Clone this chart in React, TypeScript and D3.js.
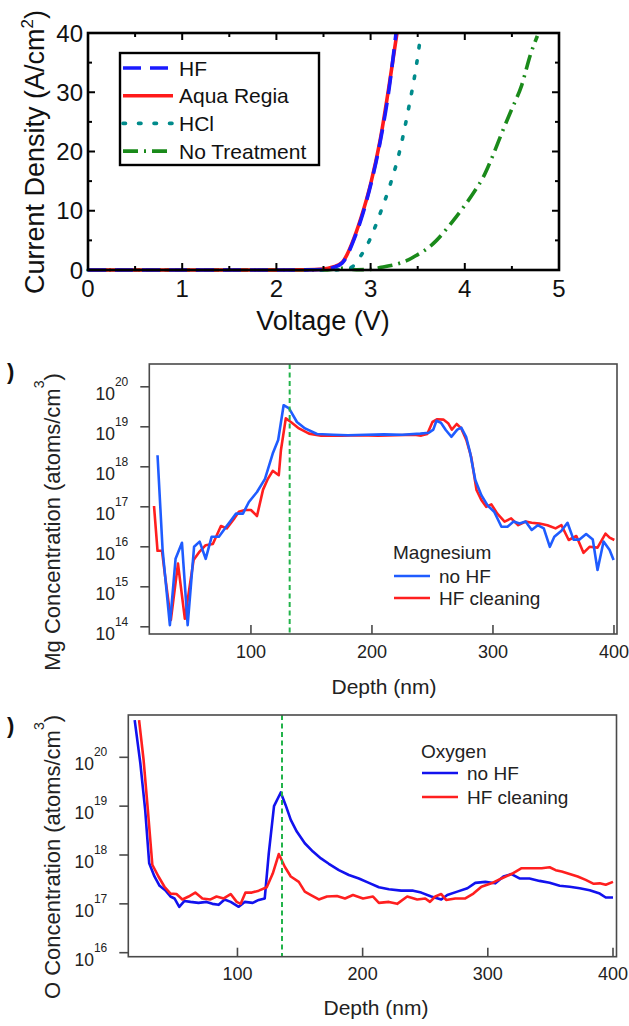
import React from "react";
import * as d3 from "d3";

const FONT = "'Liberation Sans', Arial, Helvetica, sans-serif";

// ---------- Panel (a): J-V curves ----------
const voltTicks = [0, 1, 2, 3, 4, 5];
const currentTicks = [0, 10, 20, 30, 40];

const hfVolt = [0, 0.5, 1, 1.5, 2, 2.3, 2.5, 2.6, 2.7, 2.75, 2.8, 2.9, 3.0, 3.1, 3.2, 3.27];
const hfCurrent = [0, 0, 0, 0, 0, 0.02, 0.1, 0.4, 1.2, 2.4, 4.2, 8.6, 14.3, 21.5, 31, 40];

const arVolt = [0, 0.5, 1, 1.5, 2, 2.3, 2.5, 2.6, 2.7, 2.75, 2.8, 2.9, 3.0, 3.1, 3.2, 3.28];
const arCurrent = [0, 0, 0, 0, 0, 0.03, 0.15, 0.5, 1.3, 2.6, 4.4, 8.9, 14.5, 21.8, 31.5, 40];

const hclVolt = [0, 0.5, 1, 1.5, 2, 2.5, 2.7, 2.8, 2.9, 3.0, 3.1, 3.2, 3.3, 3.4, 3.5, 3.53];
const hclCurrent = [0, 0, 0, 0, 0, 0, 0.05, 0.5, 2.5, 5.4, 9.5, 14, 19.5, 27, 36, 39.5];

const ntVolt = [0, 0.5, 1, 1.5, 2, 2.5, 2.7, 2.85, 3.0, 3.1, 3.2, 3.3, 3.4, 3.5, 3.6, 3.7, 3.8, 3.9, 4.0, 4.1, 4.2, 4.3, 4.4, 4.5, 4.6, 4.7, 4.77];
const ntCurrent = [0, 0, 0, 0, 0, 0, 0.3, 0.05, 0.1, 0.4, 0.7, 1.1, 1.7, 2.6, 3.6, 5.0, 6.8, 8.8, 10.9, 13.2, 15.8, 19.4, 23.4, 27.2, 31.0, 36.5, 39.5];

const jvLegend = ["HF", "Aqua Regia", "HCl", "No Treatment"];

// ---------- Panel (b): Mg SIMS ----------
const depthTicks = [100, 200, 300, 400];
const mgExpTicks = [14, 15, 16, 17, 18, 19, 20];

const mgNoHFDepth = [22.8, 27, 33, 37.7, 43, 47.7, 53, 57.6, 62.6, 67.5, 73.5, 78.5, 82.8, 87.7, 93.4, 98.3, 105, 111.6, 118, 122.5, 127, 131.5, 138, 144.7, 154.6, 168, 180, 195, 210, 225, 240, 247, 250.7, 253.3, 257, 261, 265.6, 270.5, 273.8, 277.8, 281, 285.4, 290.4, 295.4, 301, 307, 312, 317, 322, 327, 332, 337, 342, 347, 350.7, 356.6, 361.6, 366.6, 371.5, 377, 382.5, 386.4, 391.4, 396.4, 399.7];
const mgNoHFExp = [18.29, 15.92, 14.04, 15.7, 16.1, 14.04, 16.0, 16.13, 15.7, 16.25, 16.25, 16.46, 16.63, 16.83, 16.83, 17.12, 17.37, 17.7, 18.33, 18.67, 19.54, 19.46, 19.12, 18.96, 18.82, 18.8, 18.79, 18.8, 18.81, 18.8, 18.83, 18.85, 18.93, 19.15, 19.1, 18.92, 18.75, 18.93, 18.98, 18.75, 18.37, 17.67, 17.29, 17.04, 16.875, 16.5, 16.5, 16.63, 16.58, 16.63, 16.42, 16.54, 16.46, 16.0, 16.25, 16.4, 16.6, 16.18, 16.18, 16.32, 16.18, 15.42, 16.13, 15.92, 15.67];

const mgHFDepth = [19.9, 22.8, 26.5, 28.8, 33.8, 39.7, 45.4, 52.6, 57.6, 62.6, 68.5, 75.2, 80, 85.8, 90, 95, 100, 105, 110, 114, 118, 123, 124.8, 128.8, 133, 139.7, 148, 158, 175, 190, 205, 220, 235, 240.7, 245.7, 250, 254, 259, 263.2, 266, 270, 273.8, 278, 282, 286.4, 290.4, 294.4, 298.7, 303.6, 309.6, 315, 320.9, 327, 332, 338.4, 345, 351.7, 356.6, 362.6, 368.9, 374.8, 379.8, 386.4, 393, 396.4, 400.3];
const mgHFExp = [17.02, 15.9, 15.9, 15.33, 14.17, 15.58, 14.2, 15.67, 15.88, 16.04, 16.07, 16.52, 16.46, 16.69, 16.875, 16.92, 16.92, 16.77, 17.43, 17.7, 17.9, 17.79, 18.42, 19.21, 19.12, 18.96, 18.83, 18.78, 18.78, 18.79, 18.78, 18.79, 18.8, 18.78, 18.82, 19.12, 19.19, 19.18, 19.08, 18.93, 19.07, 18.96, 18.67, 18.25, 17.42, 17.17, 17.0, 17.06, 16.83, 16.63, 16.71, 16.54, 16.63, 16.6, 16.58, 16.54, 16.46, 16.54, 16.17, 16.27, 15.85, 16.0, 15.98, 16.33, 16.23, 16.17];

// ---------- Panel (c): O SIMS ----------
const oExpTicks = [16, 17, 18, 19, 20];

const oNoHFDepth = [17.9, 22.4, 26.3, 29.5, 33.7, 37.8, 42.3, 46.5, 49.7, 53.5, 57.7, 62.5, 68.9, 75.3, 80, 85, 89.7, 94.6, 101, 105.8, 112.2, 117, 121.8, 125, 129.2, 134.6, 138.5, 142.6, 147.4, 153.8, 160.3, 166.7, 173, 181, 189, 197, 205, 213, 221, 230.8, 240.4, 246.8, 254.8, 262.8, 267.6, 275.6, 283.7, 290, 298, 306, 312.5, 318.9, 325.3, 333.3, 341.3, 349.4, 357.4, 365.4, 373.4, 381.4, 389.4, 394.2, 400];
const oNoHFExp = [20.76, 19.88, 18.92, 17.83, 17.56, 17.37, 17.28, 17.15, 17.11, 16.94, 17.06, 17.04, 17.02, 17.04, 17.0, 16.98, 17.09, 17.04, 16.94, 17.04, 17.02, 17.08, 17.11, 18.03, 19.0, 19.28, 19.02, 18.72, 18.48, 18.24, 18.07, 17.93, 17.82, 17.69, 17.59, 17.52, 17.43, 17.34, 17.3, 17.27, 17.27, 17.23, 17.15, 17.09, 17.18, 17.25, 17.32, 17.43, 17.45, 17.42, 17.56, 17.61, 17.52, 17.52, 17.47, 17.43, 17.37, 17.35, 17.32, 17.28, 17.21, 17.13, 17.13];

const oHFDepth = [21.4, 25, 28.2, 32, 36.9, 41.7, 46.5, 51.3, 56, 61, 66.3, 72, 78.5, 83.3, 89, 94.6, 99.4, 102.6, 106.4, 111.5, 117, 123.4, 128.2, 133, 137.8, 142.6, 149, 153.8, 158.7, 165, 171.5, 179.5, 185.9, 192.3, 200.3, 208.3, 213, 221, 227.6, 235.6, 243.6, 250, 253.8, 258, 262.8, 266.7, 274, 282, 288.5, 294.9, 302.9, 310.9, 318.9, 327, 335, 343, 349.4, 354.2, 359, 365.4, 371.8, 378.2, 384.6, 389.4, 394.2, 400];
const oHFExp = [20.76, 19.95, 18.99, 17.8, 17.56, 17.35, 17.21, 17.2, 17.09, 17.15, 17.23, 17.11, 17.09, 17.15, 17.11, 17.2, 17.04, 17.0, 17.23, 17.23, 17.27, 17.34, 17.62, 18.02, 17.76, 17.56, 17.45, 17.25, 17.18, 17.09, 17.15, 17.16, 17.11, 17.18, 17.11, 17.15, 17.02, 17.04, 17.0, 17.15, 17.09, 17.11, 17.04, 17.15, 17.2, 17.08, 17.11, 17.11, 17.21, 17.35, 17.42, 17.52, 17.61, 17.73, 17.73, 17.73, 17.75, 17.69, 17.66, 17.61, 17.56, 17.49, 17.41, 17.42, 17.39, 17.45];

const mgInterfaceDepth = 132;
const oInterfaceDepth = 135.6;
const simsLegend = ["no HF", "HF cleaning"];

type Pt = [number, number];
const zip = (a: number[], b: number[]): Pt[] => a.map((v, i) => [v, b[i]]);
const zipExp = (a: number[], b: number[]): Pt[] => a.map((v, i) => [v, Math.pow(10, b[i])]);

function PanelA() {
  const x = d3.scaleLinear().domain([0, 5]).range([88, 559]);
  const y = d3.scaleLinear().domain([0, 40]).range([270, 33]);
  const smooth = d3.line<Pt>().x((d) => x(d[0])).y((d) => y(d[1])).curve(d3.curveMonotoneX);
  const [x0, x1] = x.range();
  const [y0, y1] = y.range();
  const xMinor = d3.range(0, 5.01, 0.5);
  const yMinor = d3.range(0, 40.01, 5);
  const series = [
    { name: jvLegend[3], data: zip(ntVolt, ntCurrent), color: "#1a8a1a", dash: "15,6,2,6", cap: "butt" },
    { name: jvLegend[2], data: zip(hclVolt, hclCurrent), color: "#008b8b", dash: "2.5,13", cap: "round" },
    { name: jvLegend[1], data: zip(arVolt, arCurrent), color: "#ff1a1a", dash: "", cap: "butt" },
    { name: jvLegend[0], data: zip(hfVolt, hfCurrent), color: "#1a1aff", dash: "18,9", cap: "butt" },
  ];
  const legendOrder = [3, 2, 1, 0];
  return (
    <g>
      {series.map((s) => (
        <path key={s.name} d={smooth(s.data) || ""} fill="none" stroke={s.color} strokeWidth={3.6}
          strokeDasharray={s.dash || undefined} strokeLinecap={s.cap as any} />
      ))}
      <rect x={x0} y={y1} width={x1 - x0} height={y0 - y1} fill="none" stroke="#000" strokeWidth={2.6} />
      {xMinor.map((v) => {
        const major = Math.abs(v - Math.round(v)) < 1e-6;
        const L = major ? 7 : 4;
        return (
          <g key={"xt" + v}>
            <line x1={x(v)} x2={x(v)} y1={y0} y2={y0 - L} stroke="#000" strokeWidth={2} />
            <line x1={x(v)} x2={x(v)} y1={y1} y2={y1 + L} stroke="#000" strokeWidth={2} />
          </g>
        );
      })}
      {yMinor.map((v) => {
        const major = v % 10 === 0;
        const L = major ? 7 : 4;
        return (
          <g key={"yt" + v}>
            <line x1={x0} x2={x0 + L} y1={y(v)} y2={y(v)} stroke="#000" strokeWidth={2} />
            <line x1={x1} x2={x1 - L} y1={y(v)} y2={y(v)} stroke="#000" strokeWidth={2} />
          </g>
        );
      })}
      {voltTicks.map((v) => (
        <text key={"xl" + v} x={x(v)} y={297} textAnchor="middle" fontSize={24} fontFamily={FONT} fill="#111">{v}</text>
      ))}
      {currentTicks.map((v) => (
        <text key={"yl" + v} x={83} y={y(v)} dy="0.36em" textAnchor="end" fontSize={24} fontFamily={FONT} fill="#111">{v}</text>
      ))}
      <text x={323} y={330} textAnchor="middle" fontSize={27} fontFamily={FONT} fill="#111">Voltage (V)</text>
      <text transform="translate(44,152) rotate(-90)" textAnchor="middle" fontSize={27} fontFamily={FONT} fill="#111">
        Current Density (A/cm<tspan dy={-11} fontSize={17}>2</tspan><tspan dy={11}>)</tspan>
      </text>
      <rect x={120} y={53} width={199} height={112} fill="#fff" stroke="#000" strokeWidth={2.4} />
      {legendOrder.map((si, i) => {
        const s = series[si];
        const ly = 68 + i * 27.7;
        return (
          <g key={"lg" + i}>
            <line x1={123} x2={173} y1={ly} y2={ly} stroke={s.color} strokeWidth={3.6}
              strokeDasharray={s.dash || undefined} strokeLinecap={s.cap as any} />
            <text x={179} y={ly} dy="0.36em" fontSize={21} fontFamily={FONT} fill="#111">{s.name}</text>
          </g>
        );
      })}
    </g>
  );
}

type SimsProps = {
  box: { l: number; r: number; t: number; b: number };
  xDomain: [number, number];
  yExpDomain: [number, number];
  expTicks: number[];
  noHF: Pt[];
  hf: Pt[];
  interfaceDepth: number;
  blue: string;
  yLabel: string;
  yLabelCenter: number;
  xLabelX: number;
  xLabelY: number;
  tickLabelY: number;
  legendTitle: string;
  legend: { x: number; titleY: number; y1: number; y2: number };
  hfOnTop: boolean;
};

function SimsPanel(p: SimsProps) {
  const x = d3.scaleLinear().domain(p.xDomain).range([p.box.l, p.box.r]);
  const y = d3.scaleLog().domain([Math.pow(10, p.yExpDomain[0]), Math.pow(10, p.yExpDomain[1])]).range([p.box.b, p.box.t]);
  const line = d3.line<Pt>().x((d) => x(d[0])).y((d) => y(d[1]));
  const clipId = "clip" + p.legendTitle;
  const red = "#ff1f1f";
  const axisColor = "#4a4a4a";
  const blueEl = <path d={line(p.noHF) || ""} fill="none" stroke={p.blue} strokeWidth={2.6} strokeLinejoin="round" />;
  const redEl = <path d={line(p.hf) || ""} fill="none" stroke={red} strokeWidth={2.6} strokeLinejoin="round" />;
  return (
    <g>
      <defs>
        <clipPath id={clipId}>
          <rect x={p.box.l} y={p.box.t} width={p.box.r - p.box.l} height={p.box.b - p.box.t} />
        </clipPath>
      </defs>
      <g clipPath={`url(#${clipId})`}>
        {p.hfOnTop ? <>{blueEl}{redEl}</> : <>{redEl}{blueEl}</>}
        <line x1={x(p.interfaceDepth)} x2={x(p.interfaceDepth)} y1={p.box.t} y2={p.box.b}
          stroke="#22b34a" strokeWidth={2} strokeDasharray="5,3.5" />
      </g>
      <rect x={p.box.l} y={p.box.t} width={p.box.r - p.box.l} height={p.box.b - p.box.t} fill="none" stroke={axisColor} strokeWidth={1.6} />
      {depthTicks.map((v) => (
        <g key={"dx" + v}>
          <line x1={x(v)} x2={x(v)} y1={p.box.b} y2={p.box.b - 9} stroke={axisColor} strokeWidth={1.6} />
          <text x={x(v)} y={p.tickLabelY} textAnchor="middle" fontSize={18} fontFamily={FONT} fill="#222">{v}</text>
        </g>
      ))}
      {p.expTicks.map((e) => {
        const ty = y(Math.pow(10, e));
        return (
          <g key={"ey" + e}>
            <line x1={p.box.l} x2={p.box.l - 9} y1={ty} y2={ty} stroke={axisColor} strokeWidth={1.6} />
            <text x={p.box.l - 21} y={ty + 13} textAnchor="end" fontSize={17.5} fontFamily={FONT} fill="#222">
              10<tspan dy={-14} fontSize={12}>{e}</tspan>
            </text>
          </g>
        );
      })}
      <text x={p.xLabelX} y={p.xLabelY} textAnchor="middle" fontSize={21} fontFamily={FONT} fill="#222">Depth (nm)</text>
      <text transform={`translate(60,${p.yLabelCenter}) rotate(-90)`} textAnchor="middle" fontSize={22} fontFamily={FONT} fill="#222">
        {p.yLabel}<tspan dy={-16} fontSize={14}>3</tspan><tspan dy={16}>)</tspan>
      </text>
      <text x={p.legend.x} y={p.legend.titleY} fontSize={19} fontFamily={FONT} fill="#222">{p.legendTitle}</text>
      {[p.blue, red].map((c, i) => {
        const ly = i === 0 ? p.legend.y1 : p.legend.y2;
        return (
          <g key={"sl" + i}>
            <line x1={p.legend.x + 1} x2={p.legend.x + 37} y1={ly} y2={ly} stroke={c} strokeWidth={2.6} />
            <text x={p.legend.x + 46} y={ly} dy="0.36em" fontSize={19} fontFamily={FONT} fill="#222">{simsLegend[i]}</text>
          </g>
        );
      })}
    </g>
  );
}

export default function App() {
  return (
    <svg width={629} height={1026} viewBox="0 0 629 1026"
      style={{ position: "absolute", left: 0, top: 0, background: "#fff", display: "block" }}>
      <rect x={0} y={0} width={629} height={1026} fill="#fff" />
      <PanelA />
      <text x={7} y={379} fontSize={22} fontWeight="bold" fontFamily={FONT} fill="#111">)</text>
      <SimsPanel
        box={{ l: 149.3, r: 617, t: 364, b: 634 }}
        xDomain={[16, 402.5]}
        yExpDomain={[13.82, 20.57]}
        expTicks={mgExpTicks}
        noHF={zipExp(mgNoHFDepth, mgNoHFExp)}
        hf={zipExp(mgHFDepth, mgHFExp)}
        interfaceDepth={mgInterfaceDepth}
        blue="#1f5cff"
        yLabel="Mg Concentration (atoms/cm"
        yLabelCenter={522}
        xLabelX={384}
        xLabelY={694}
        tickLabelY={658}
        legendTitle="Magnesium"
        legend={{ x: 393, titleY: 559, y1: 576, y2: 598 }}
        hfOnTop={false}
      />
      <text x={7} y={733} fontSize={22} fontWeight="bold" fontFamily={FONT} fill="#111">)</text>
      <SimsPanel
        box={{ l: 128.3, r: 616.5, t: 715, b: 956.7 }}
        xDomain={[12.8, 402.8]}
        yExpDomain={[15.918, 20.866]}
        expTicks={oExpTicks}
        noHF={zipExp(oNoHFDepth, oNoHFExp)}
        hf={zipExp(oHFDepth, oHFExp)}
        interfaceDepth={oInterfaceDepth}
        blue="#1212ee"
        yLabel="O Concentration (atoms/cm"
        yLabelCenter={857}
        xLabelX={376}
        xLabelY={1015}
        tickLabelY={980}
        legendTitle="Oxygen"
        legend={{ x: 421, titleY: 758, y1: 773, y2: 797 }}
        hfOnTop={true}
      />
    </svg>
  );
}
